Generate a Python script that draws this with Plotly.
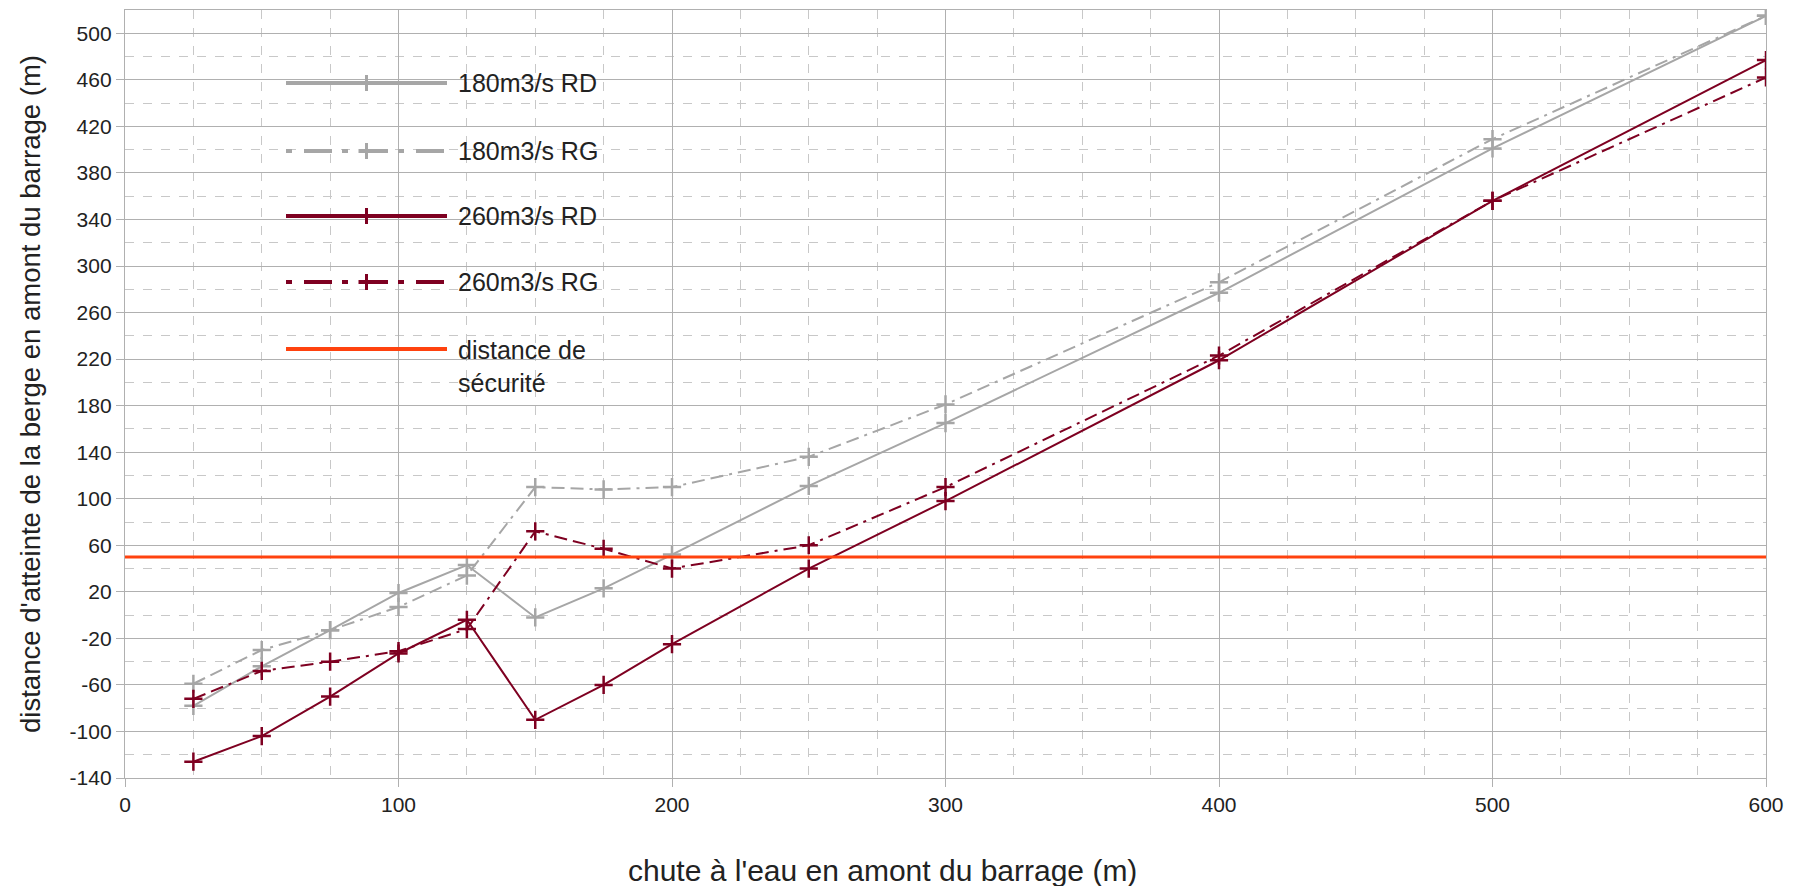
import plotly.graph_objects as go

# ---- data ----
x_chute = [25, 50, 75, 100, 125, 150, 175, 200, 250, 300, 400, 500, 600]
d_180_rd = [-78, -44, -13, 19, 43, -2, 23, 52, 111, 165, 277, 401, 515]
d_180_rg = [-59, -30, -13, 7, 34, 110, 108, 110, 136, 181, 286, 409, 515]
d_260_rd = [-126, -104, -70, -33, -4, -90, -60, -25, 40, 98, 219, 356, 477]
d_260_rg = [-72, -48, -40, -31, -12, 72, 57, 40, 60, 110, 223, 356, 462]
securite_x = [0, 600]
securite_y = [50, 50]

y_tick_vals = list(range(-140, 501, 40))
y_tick_labels = [str(v) for v in y_tick_vals]   # plain hyphen, as in the reference
x_tick_vals = [0, 100, 200, 300, 400, 500, 600]
x_tick_labels = [str(v) for v in x_tick_vals]

names = ["180m3/s RD", "180m3/s RG", "260m3/s RD", "260m3/s RG", "distance de<br>sécurité"]
x_title = "chute à l'eau en amont du barrage (m)"
y_title = "distance d'atteinte de la berge en amont du barrage (m)"

GRAY = "#a6a6a6"
MAROON = "#7e0021"
ORANGE = "#ff420e"
TXT = "#222222"
FONT = "Liberation Sans, Arial, sans-serif"
DASH_PLOT = "13px,6px,13px,6px,3px,6px"

W, H = 1795, 886
L, R, T, B = 125, 1766, 10, 778

fig = go.Figure()
series = [
    (d_180_rd, names[0], GRAY, "solid", 2),
    (d_180_rg, names[1], GRAY, DASH_PLOT, 2),
    (d_260_rd, names[2], MAROON, "solid", 2),
    (d_260_rg, names[3], MAROON, DASH_PLOT, 2),
]
for ys, nm, col, dash, lw in series:
    fig.add_trace(go.Scatter(
        x=x_chute, y=ys, name=nm, mode="lines+markers",
        line=dict(color=col, width=lw, dash=dash),
        marker=dict(symbol="cross-thin", size=13, line=dict(color=col, width=2.5)),
        showlegend=False,
    ))
fig.add_trace(go.Scatter(
    x=securite_x, y=securite_y, name="distance de sécurité", mode="lines",
    line=dict(color=ORANGE, width=3), showlegend=False,
))

# ---- custom legend (long sample lines like the reference) ----
def xp(px):
    return (px - L) / (R - L)

def yp(py):
    return (B - py) / (B - T)

leg_x0, leg_x1, leg_tx = 286, 447, 456
leg_rows = [83, 151, 216, 282, 349]
leg_styles = [
    (GRAY, "solid", True),
    (GRAY, "6px,12px,28px,10px", True),
    (MAROON, "solid", True),
    (MAROON, "6px,12px,28px,10px", True),
    (ORANGE, "solid", False),
]
shapes = []
annotations = []
cx = (leg_x0 + leg_x1) / 2
for row, (col, dash, mark), nm in zip(leg_rows, leg_styles, names):
    shapes.append(dict(type="line", xref="paper", yref="paper",
                       x0=xp(leg_x0), x1=xp(leg_x1), y0=yp(row), y1=yp(row),
                       line=dict(color=col, width=4, dash=dash)))
    if mark:
        shapes.append(dict(type="line", xref="paper", yref="paper",
                           x0=xp(cx), x1=xp(cx), y0=yp(row - 8), y1=yp(row + 8),
                           line=dict(color=col, width=3)))
        shapes.append(dict(type="line", xref="paper", yref="paper",
                           x0=xp(cx - 8), x1=xp(cx + 8), y0=yp(row), y1=yp(row),
                           line=dict(color=col, width=4)))
    if "<br>" in nm:
        annotations.append(dict(xref="paper", yref="paper", x=xp(leg_tx), y=yp(row - 15),
                                xanchor="left", yanchor="top", align="left",
                                text=nm, showarrow=False,
                                font=dict(size=25, color=TXT, family=FONT)))
    else:
        annotations.append(dict(xref="paper", yref="paper", x=xp(leg_tx), y=yp(row),
                                xanchor="left", yanchor="middle", align="left",
                                text=nm, showarrow=False,
                                font=dict(size=25, color=TXT, family=FONT)))

# x-axis title: in the reference it sits slightly left of the plot centre
annotations.append(dict(xref="paper", yref="paper", x=xp(882), y=yp(870),
                        xanchor="center", yanchor="middle", text=x_title, showarrow=False,
                        font=dict(size=30, color=TXT, family=FONT)))

axis_common = dict(
    showgrid=True, gridcolor="#b0b0b0", gridwidth=1.3,
    showline=True, linecolor="#b0b0b0", linewidth=1.3, mirror=True,
    ticks="outside", ticklen=8, tickcolor="#b0b0b0", tickwidth=1.3,
    zeroline=False, automargin=False,
    tickfont=dict(size=21, color=TXT, family=FONT),
)

fig.update_layout(
    width=W, height=H,
    margin=dict(l=L, r=W - R, t=T, b=H - B),
    paper_bgcolor="white", plot_bgcolor="white",
    font=dict(family=FONT, color=TXT),
    shapes=shapes, annotations=annotations,
    xaxis=dict(
        range=[0, 600], tickmode="array", tickvals=x_tick_vals, ticktext=x_tick_labels,
        minor=dict(dtick=25, tick0=0, showgrid=True, griddash="dash", gridcolor="#c8c8c8", gridwidth=1),
        **axis_common,
    ),
    yaxis=dict(
        range=[-140, 520], tickmode="array", tickvals=y_tick_vals, ticktext=y_tick_labels,
        minor=dict(dtick=20, tick0=-140, showgrid=True, griddash="dash", gridcolor="#c8c8c8", gridwidth=1),
        title=dict(text=y_title, font=dict(size=27.5, color=TXT, family=FONT), standoff=20),
        **axis_common,
    ),
)

fig.write_html("out.html", post_script="document.body.style.margin='0px';",
               config={"displayModeBar": False})
